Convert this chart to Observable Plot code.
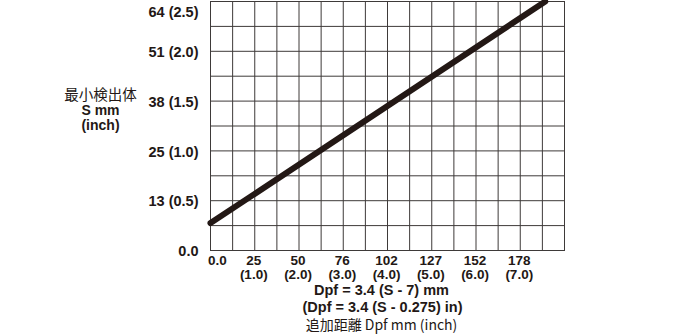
<!DOCTYPE html>
<html>
<head>
<meta charset="utf-8">
<script src="https://cdn.jsdelivr.net/npm/d3@7"></script>
<script src="https://cdn.jsdelivr.net/npm/@observablehq/plot@0.6"></script>
<style>
  html, body { margin: 0; padding: 0; background: #fff; }
</style>
</head>
<body>
<div id="chart"></div>
<script>
// Data (inch units on both axes)
const dpfInch = [0, 7.565];      // added distance Dpf
const sInch = [0.275, 2.5];      // minimum sensing object S

// Tick positions and labels
const xTickPos = [0, 1, 2, 3, 4, 5, 6, 7];
const xTickMm = ["0.0", "25", "50", "76", "102", "127", "152", "178"];
const xTickIn = ["", "(1.0)", "(2.0)", "(3.0)", "(4.0)", "(5.0)", "(6.0)", "(7.0)"];
const yTickPos = [0, 0.5, 1, 1.5, 2, 2.5];
const yTickLabels = ["0.0", "13 (0.5)", "25 (1.0)", "38 (1.5)", "51 (2.0)", "64 (2.5)"];

const lineData = dpfInch.map((d, i) => ({dpf: d, s: sInch[i]}));
const xTicks = xTickPos.map((p, i) => ({p, mm: xTickMm[i], inch: xTickIn[i]}));
const yTicks = yTickPos.map((p, i) => ({p, label: yTickLabels[i]}));

const gridColor = "#3e3a39";
const ink = "#231815";
const latin = "'Liberation Sans', Arial, Helvetica, sans-serif";
const cjk = "'Noto Sans CJK JP', 'Liberation Sans', sans-serif";

const bold = {fontWeight: "bold", fontSize: 14.5, fill: ink, lineAnchor: "middle"};
const boldT = {fontWeight: "bold", fontSize: 14, fill: ink, lineAnchor: "middle"};
const boldSm = {fontWeight: "bold", fontSize: 13.5, fill: ink, lineAnchor: "middle"};

const chart = Plot.plot({
  width: 680,
  height: 334,
  marginLeft: 210,
  marginRight: 116,
  marginTop: 1,
  marginBottom: 84,
  x: {domain: [0, 8], axis: null},
  y: {domain: [0, 2.5], axis: null},
  style: {fontFamily: latin, background: "#fff", overflow: "visible"},
  marks: [
    Plot.gridX(d3.range(0, 8.01, 0.5), {stroke: gridColor, strokeOpacity: 1, strokeWidth: 1}),
    Plot.gridY(d3.range(0, 2.51, 0.25), {stroke: gridColor, strokeOpacity: 1, strokeWidth: 1}),
    Plot.frame({stroke: gridColor, strokeWidth: 1}),
    Plot.line(lineData, {x: "dpf", y: "s", stroke: ink, strokeWidth: 6, strokeLinecap: "round"}),
    // y tick labels
    Plot.text(yTicks.filter(d => d.p < 2.5), {x: 0, y: "p", text: "label", textAnchor: "end", dx: -12, dy: 1, ...bold}),
    Plot.text(yTicks.filter(d => d.p === 2.5), {x: 0, y: "p", text: "label", textAnchor: "end", dx: -12, dy: 11, ...bold}),
    // x tick labels
    Plot.text(xTicks.filter(d => d.p > 0), {x: "p", y: 0, text: "mm", dx: -1, dy: 10, ...boldSm}),
    Plot.text(xTicks.filter(d => d.p === 0), {x: "p", y: 0, text: "mm", dx: 7, dy: 10, ...boldSm}),
    Plot.text(xTicks, {x: "p", y: 0, text: "inch", dx: -1, dy: 24, ...boldSm}),
    // x axis titles
    Plot.text(["Dpf = 3.4 (S - 7) mm"], {frameAnchor: "bottom", textAnchor: "middle", dx: -6, dy: 40, ...bold}),
    Plot.text(["(Dpf = 3.4 (S - 0.275) in)"], {frameAnchor: "bottom", textAnchor: "middle", dx: -5, dy: 57, ...bold}),
    Plot.text(["追加距離 Dpf mm (inch)"], {frameAnchor: "bottom", textAnchor: "middle", lineAnchor: "middle",
      dx: -6, dy: 75.5, fontSize: 14, fill: ink, fontFamily: cjk}),
    // y axis titles
    Plot.text(["最小検出体"], {frameAnchor: "left", textAnchor: "middle", lineAnchor: "middle",
      dx: -110, dy: -31, fontSize: 14.5, fill: ink, fontFamily: cjk}),
    Plot.text(["S mm"], {frameAnchor: "left", textAnchor: "middle", dx: -110, dy: -15, ...boldT}),
    Plot.text(["(inch)"], {frameAnchor: "left", textAnchor: "middle", dx: -110, dy: 0, ...boldT})
  ]
});
document.getElementById("chart").appendChild(chart);
</script>
</body>
</html>
